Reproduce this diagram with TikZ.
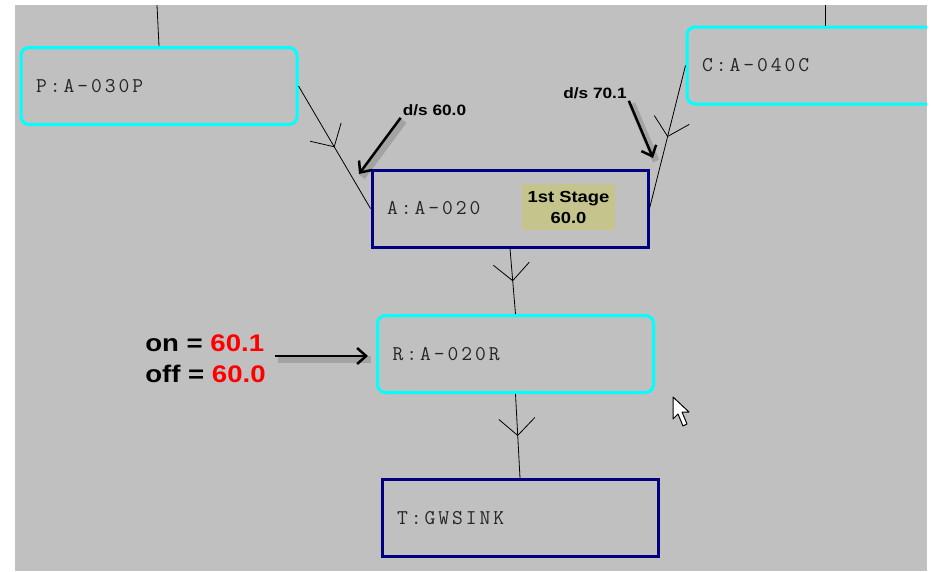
\documentclass[tikz,border=0pt]{standalone}
\usepackage{fontspec}
\setmainfont{Liberation Sans}
\newfontfamily\notefont[FakeStretch=1.15]{Liberation Sans}
\newfontfamily\boxfont[LetterSpace=14]{Latin Modern Mono}
\usetikzlibrary{arrows.meta, positioning, decorations.markings}
\definecolor{screen}{RGB}{192,192,192}
\definecolor{pipecyan}{RGB}{0,255,255}
\definecolor{tanknavy}{RGB}{0,0,128}
\definecolor{stagekhaki}{RGB}{196,196,140}

\begin{document}
\begin{tikzpicture}[
    x=1pt, y=-1pt,
    font=\boxfont\fontsize{21}{23}\selectfont,
    unit/.style={
        minimum height=77pt,
        text width=246pt,
        inner xsep=15pt,
        inner ysep=0pt,
        align=left,
        line width=3pt,
        text=black!85
    },
    pipe/.style={unit, draw=pipecyan, rounded corners=8pt},
    tank/.style={unit, draw=tanknavy},
    stage/.style={
        fill=stagekhaki,
        minimum width=93pt,
        minimum height=46pt,
        inner sep=0pt,
        align=center,
        font=\notefont\bfseries\fontsize{16}{21}\selectfont
    },
    note/.style={inner sep=2pt, font=\notefont\bfseries\fontsize{15}{17}\selectfont},
    link/.style={line width=0.8pt},
    flow/.style={
        link,
        postaction={decorate},
        decoration={markings, mark=at position 0.5 with {\arrow{Straight Barb[length=17pt, width=36pt]}}}
    },
    callout/.style={
        line width=2.5pt,
        -{Straight Barb[length=9pt, width=16pt]},
        preaction={draw=black, -, opacity=0.15, line width=7pt, transform canvas={xshift=3pt, yshift=-3pt}}
    }
]
    \fill[white] (0,0) rectangle (932,571);
    \useasboundingbox (0,0) rectangle (932,571);
    \fill[screen] (15,5) rectangle (927,571);

    \begin{scope}
    \clip (15,5) rectangle (927,571);

    % units
    \node[pipe] (P) at (159,86) {P:A-030P};
    \node[pipe] (C) at (825,65.5) {C:A-040C};
    \node[tank] (A) at (510,208.5) {A:A-020};
    \node[pipe] (R) at (515.5,354) {R:A-020R};
    \node[tank] (T) at (520,518) {T:GWSINK};
    \node[stage] (stage1) at (568.5,207) {1st Stage\\60.0};

    % links
    \coordinate (Ptop) at (157,5);
    \coordinate (Ctop) at (825,5);
    \draw[link] (Ptop) -- (P.north);
    \draw[link] (Ctop) -- (C.north);
    \draw[flow] (P.east) -- (A.west);
    \draw[flow] (C.west) -- (A.east);
    \draw[flow] (A.south) -- (R.north);
    \draw[flow] (R.south) -- (T.north);

    % callouts
    \node[note] (ds60) at (434.5,110) {d/s 60.0};
    \node[note] (ds70) at (595,93) {d/s 70.1};
    \node[note, align=left, font=\notefont\bfseries\fontsize{24}{31}\selectfont] (onoff) at (205.5,359)
        {on = \textcolor{red}{60.1}\\off = \textcolor{red}{60.0}};
    \coordinate (ds60tip) at (359,174);
    \coordinate (ds70tip) at (653,158);
    \coordinate (onofftip) at (368,356);
    \draw[callout] (ds60.south west) -- (ds60tip);
    \draw[callout] (ds70.south east) -- (ds70tip);
    \draw[callout] ([xshift=7pt]onoff.east |- onofftip) -- (onofftip);

    % pointer
    \draw[fill=white, line width=1pt, line join=round]
        (673,397) -- (673,419) -- (678,414) -- (683,426) -- (687,424) -- (682,412) -- (689,412) -- cycle;
    \end{scope}
\end{tikzpicture}
\end{document}
